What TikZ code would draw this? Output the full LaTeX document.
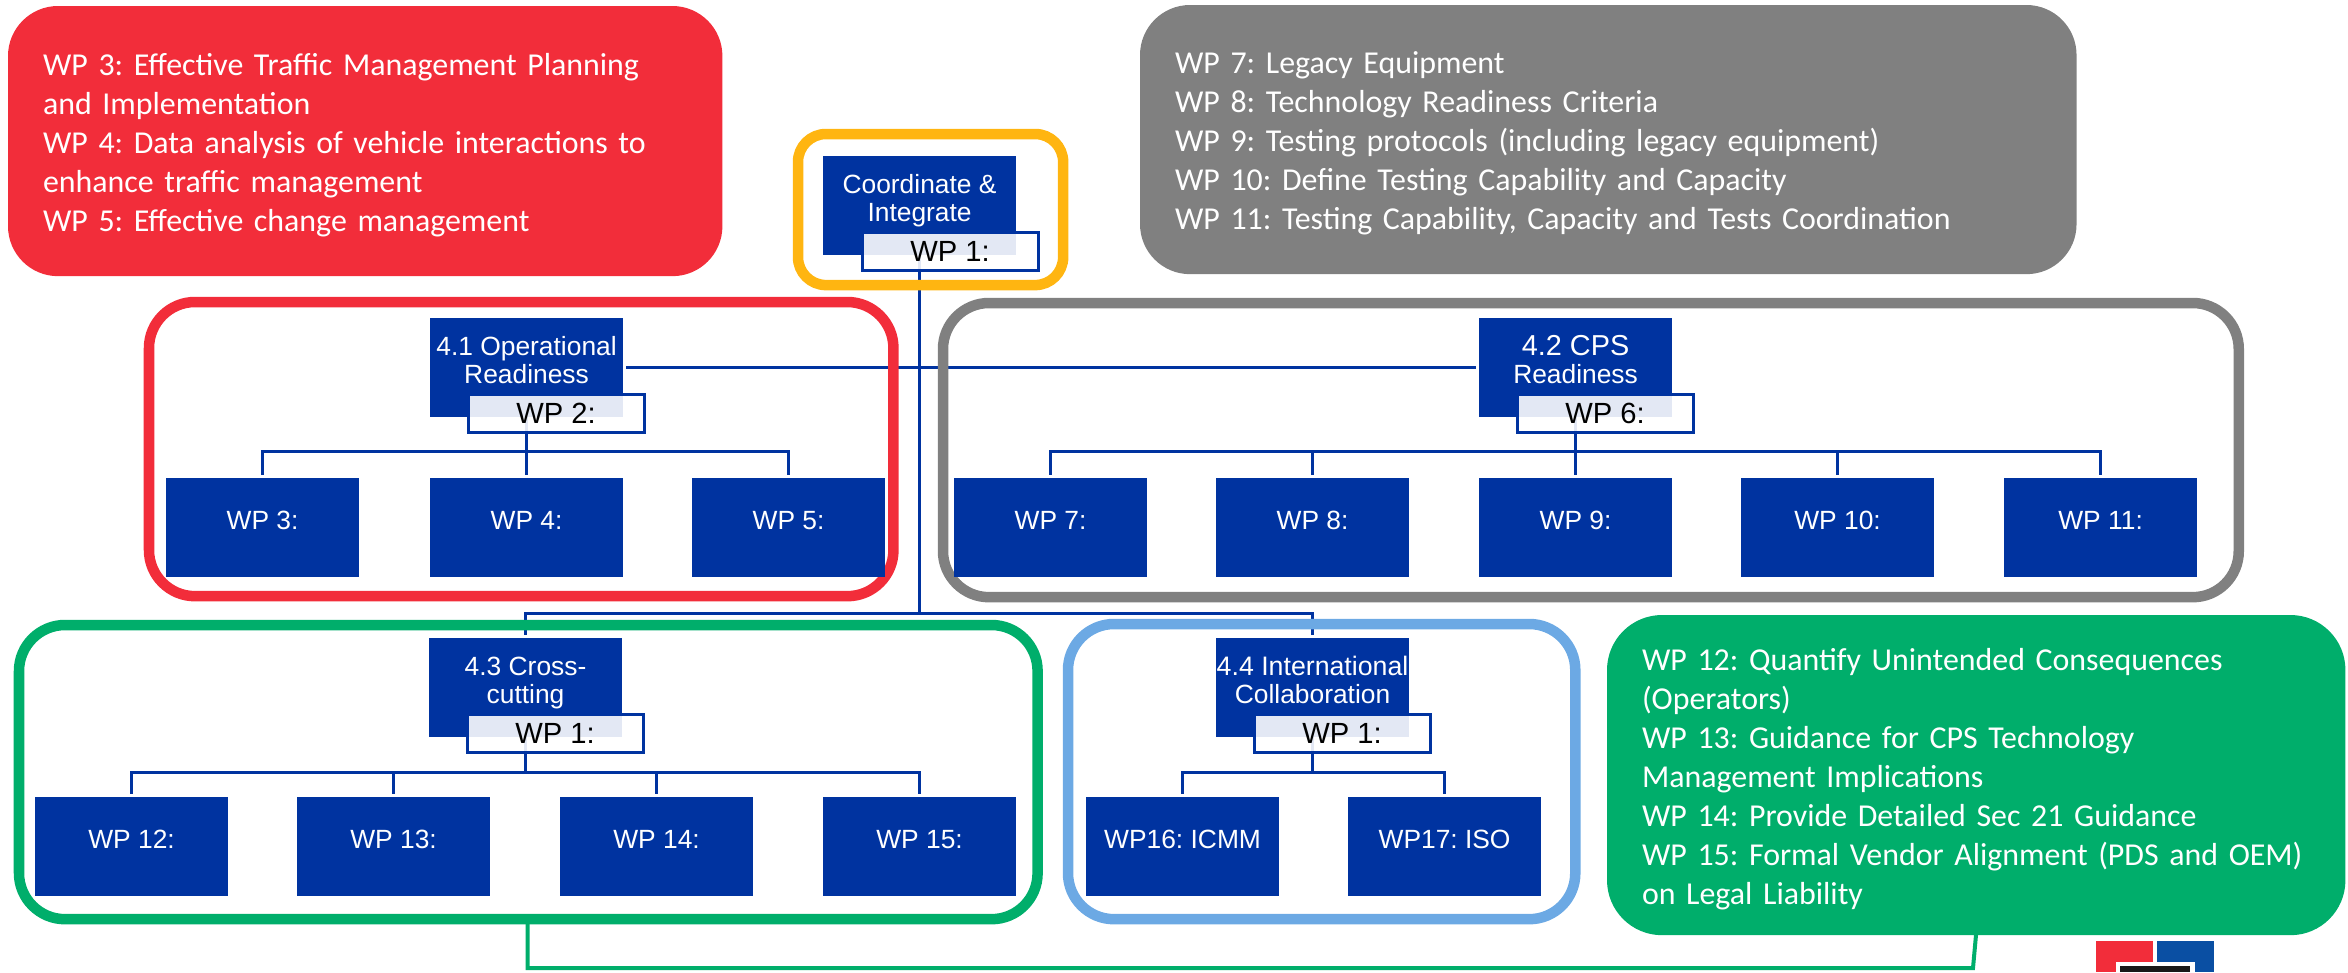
\documentclass[tikz,border=0pt]{standalone}
\usepackage{fontspec}
\setmainfont{Liberation Sans}
\newfontfamily\callfont{Carlito}
\AtBeginDocument{\frenchspacing}
\definecolor{wpblue}{HTML}{0033A0}
\definecolor{wpred}{HTML}{F22D3A}
\definecolor{wpgray}{HTML}{808080}
\definecolor{wpgreen}{HTML}{00AE6B}
\definecolor{wpyellow}{HTML}{FFB511}
\definecolor{wplight}{HTML}{6CA9E4}
\definecolor{logoblue}{HTML}{0A4FA3}
\newcommand\uptext[2][.07cm]{\raisebox{0pt}[\height][\dimexpr\depth+#1\relax]{\begin{tabular}{@{}c@{}}#2\end{tabular}}}
\newcommand\firstline{\rule{0pt}{8.55pt}}
\pgfdeclarelayer{connlayer}
\pgfdeclarelayer{framelayer}
\pgfsetlayers{connlayer,framelayer,main}
\tikzset{
  wpbox/.style={anchor=north west,fill=wpblue,text=white,minimum width=1.93cm,minimum height=.985cm,inner sep=0pt,outer sep=0pt,font=\fontsize{7.5pt}{8pt}\selectfont},
  wplabel/.style={anchor=north west,draw=wpblue,line width=.03cm,fill=white,fill opacity=.89,text opacity=1,text=black,minimum width=1.76cm,minimum height=.38cm,inner sep=0pt,outer sep=0pt,font=\fontsize{8.3pt}{9pt}\selectfont},
  frame/.style={anchor=north west,draw=#1,line width=.105cm,rounded corners=.46cm,inner sep=0pt,outer sep=0pt},
  callout/.style={anchor=north west,fill=#1,text=white,rounded corners=.5cm,inner ysep=0pt,inner xsep=.35cm,outer sep=0pt,align=left,font=\callfont\fontsize{9.07pt}{11.1pt}\selectfont},
  conn/.style={draw=wpblue,line width=.03cm},
  greenconn/.style={draw=wpgreen,line width=.04cm,line join=miter}
}
\begin{document}
\begin{tikzpicture}[x=0.01cm,y=-0.01cm]
\useasboundingbox (0,0) rectangle (2348,972);

% callouts
\node[callout=wpred,text width=6.44cm,minimum height=2.70cm] (calR) at (8,6) {\firstline WP 3: Effective Traffic Management Planning\\and Implementation\\WP 4: Data analysis of vehicle interactions to\\enhance traffic management\\WP 5: Effective change management};
\node[callout=wpgray,text width=8.66cm,minimum height=2.69cm] (calK) at (1140,5) {\firstline WP 7: Legacy Equipment\\WP 8: Technology Readiness Criteria\\WP 9: Testing protocols (including legacy equipment)\\WP 10: Define Testing Capability and Capacity\\WP 11: Testing Capability, Capacity and Tests Coordination};
\node[callout=wpgreen,text width=6.68cm,minimum height=3.20cm,rounded corners=.55cm] (calG) at (1607,615) {\firstline WP 12: Quantify Unintended Consequences\\(Operators)\\WP 13: Guidance for CPS Technology\\Management Implications\\WP 14: Provide Detailed Sec 21 Guidance\\WP 15: Formal Vendor Alignment (PDS and OEM)\\on Legal Liability};

% main boxes
\node[wpbox] (box0) at (823,156) {\uptext{Coordinate \&\\Integrate}};
\node[wpbox] (box41) at (430,318) {\uptext{4.1 Operational\\Readiness}};
\node[wpbox] (box42) at (1479,318) {\uptext{\fontsize{8.2pt}{8.8pt}\selectfont 4.2 CPS\\Readiness}};
\node[wpbox] (box43) at (429,638) {\uptext{4.3 Cross-\\cutting}};
\node[wpbox] (box44) at (1216,638) {\uptext{\fontsize{7.6pt}{8pt}\selectfont 4.4 International\\Collaboration}};

% labels
\node[wplabel] (lab0) at (862,232) {WP 1:};
\node[wplabel] (lab41) at (468,394) {WP 2:};
\node[wplabel] (lab42) at (1517,394) {WP 6:};
\node[wplabel] (lab43) at (467,714) {WP 1:};
\node[wplabel] (lab44) at (1254,714) {WP 1:};

% work packages
\node[wpbox] (wp3) at (166,478) {\uptext{WP 3:}};
\node[wpbox] (wp4) at (430,478) {\uptext{WP 4:}};
\node[wpbox] (wp5) at (692,478) {\uptext{WP 5:}};
\node[wpbox] (wp7) at (954,478) {\uptext{WP 7:}};
\node[wpbox] (wp8) at (1216,478) {\uptext{WP 8:}};
\node[wpbox] (wp9) at (1479,478) {\uptext{WP 9:}};
\node[wpbox] (wp10) at (1741,478) {\uptext{WP 10:}};
\node[wpbox] (wp11) at (2004,478) {\uptext{WP 11:}};
\node[wpbox] (wp12) at (35,797) {\uptext{WP 12:}};
\node[wpbox] (wp13) at (297,797) {\uptext{WP 13:}};
\node[wpbox] (wp14) at (560,797) {\uptext{WP 14:}};
\node[wpbox] (wp15) at (823,797) {\uptext{WP 15:}};
\node[wpbox] (wp16) at (1086,797) {\uptext{WP16: ICMM}};
\node[wpbox] (wp17) at (1348,797) {\uptext{WP17: ISO}};

% frames
\begin{pgfonlayer}{framelayer}
\node[frame=wpyellow,rounded corners=.28cm,minimum width=2.65cm,minimum height=1.51cm] (frmY) at (798,134) {};
\node[frame=wpred,minimum width=7.44cm,minimum height=2.94cm] (frmR) at (149,302) {};
\node[frame=wpgray,minimum width=12.95cm,minimum height=2.94cm] (frmK) at (943,303) {};
\node[frame=wpgreen,minimum width=10.18cm,minimum height=2.94cm] (frmG) at (19,625) {};
\node[frame=wplight,minimum width=5.07cm,minimum height=2.95cm] (frmB) at (1068,624) {};
\end{pgfonlayer}

% connectors
\coordinate (main) at (box0.south |- 0,613);
\coordinate (bus41) at (box41.south |- 0,451);
\coordinate (bus42) at (box42.south |- 0,451);
\coordinate (bus43) at (box43.south |- 0,772);
\coordinate (bus44) at (box44.south |- 0,772);
\coordinate (ga) at (527.5,919);
\coordinate (gb) at (527.5,968);
\coordinate (gc) at (1973,968);
\coordinate (gd) at (1976,935);
\begin{pgfonlayer}{connlayer}
\draw[conn] (box0.south) -- (main);
\draw[conn,shorten <=.03cm,shorten >=.03cm] (box41.east |- 0,367) -- (box42.west |- 0,367);
\draw[conn,shorten >=.03cm] (main) -| (box43.north);
\draw[conn,shorten >=.03cm] (main) -| (box44.north);
\foreach \b/\c in {41/wp3,41/wp4,41/wp5,42/wp7,42/wp8,42/wp9,42/wp10,42/wp11,43/wp12,43/wp13,43/wp14,43/wp15,44/wp16,44/wp17}
  \draw[conn,shorten >=.03cm] (box\b.south) |- (bus\b) -| (\c.north);
\draw[greenconn] (ga) -- (gb) -- (gc) -- (gd);
\end{pgfonlayer}

% logo
\fill[wpred] (2096,941) rectangle (2153,972);
\fill[logoblue] (2157,941) rectangle (2214,972);
\fill[white] (2116,962) rectangle (2195,972);
\fill[black!90] (2120,966) rectangle (2190,972);
\end{tikzpicture}
\end{document}
